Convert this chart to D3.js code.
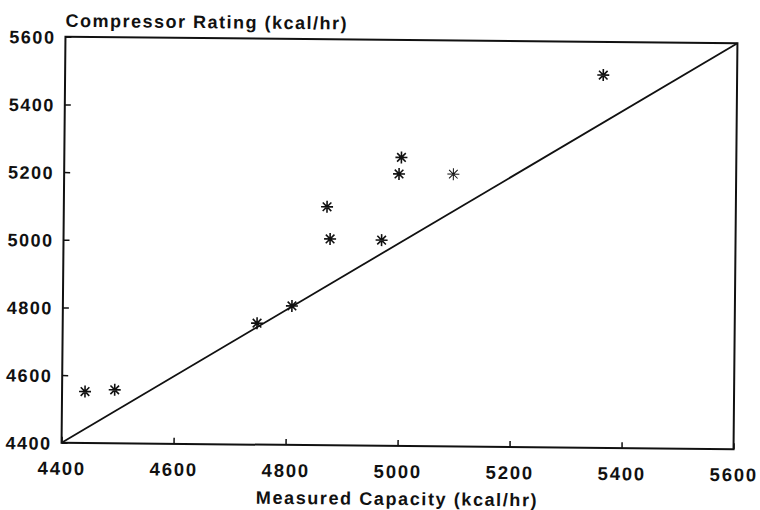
<!DOCTYPE html>
<html>
<head>
<meta charset="utf-8">
<script src="https://cdn.jsdelivr.net/npm/d3@7"></script>
<style>
  body { margin: 0; background: #fff; }
  svg text { font-family: "Liberation Sans", Arial, sans-serif; font-weight: bold; fill: #111; }
</style>
</head>
<body>
<div id="chart"></div>
<script>
// values
let measuredCapacity = [4441, 4494, 4747, 4809, 4870, 4876, 4968, 4998, 5002, 5095, 5361];
let compressorRating = [4552, 4558, 4759, 4811, 5105, 5010, 5008, 5204, 5253, 5205, 5502];
let tickValues = [4400, 4600, 4800, 5000, 5200, 5400, 5600];
let equalLine = [4400, 5600];

let width = 760;
let height = 510;
let plotLeft = 63.5, plotRight = 735.5, plotTop = 40, plotBottom = 446;

let svg = d3.select("#chart")
  .append("svg")
  .attr("width", width)
  .attr("height", height);

// the scan is a little crooked, so tilt the whole plot
let g = svg.append("g")
  .attr("transform", "rotate(0.55," + (plotLeft + plotRight) / 2 + "," + (plotTop + plotBottom) / 2 + ")");

let x = d3.scaleLinear().domain([4400, 5600]).range([plotLeft, plotRight]);
let y = d3.scaleLinear().domain([4400, 5600]).range([plotBottom, plotTop]);

// frame
g.append("rect")
  .attr("x", plotLeft)
  .attr("y", plotTop)
  .attr("width", plotRight - plotLeft)
  .attr("height", plotBottom - plotTop)
  .attr("fill", "none")
  .attr("stroke", "#111")
  .attr("stroke-width", 2);

// axes, ticks point inwards
let xAxis = g.append("g")
  .attr("transform", "translate(0," + plotBottom + ")")
  .call(d3.axisBottom(x).tickValues(tickValues).tickSizeInner(-6).tickSizeOuter(0).tickFormat(d3.format("d")));
xAxis.select(".domain").remove();
xAxis.selectAll("line").attr("stroke", "#111").attr("stroke-width", 1.5);
xAxis.selectAll("text")
  .attr("y", 32)
  .attr("dy", null)
  .attr("font-size", 18.5)
  .style("letter-spacing", "1.8px")
  .attr("fill", "#111");

let yAxis = g.append("g")
  .attr("transform", "translate(" + plotLeft + ",0)")
  .call(d3.axisLeft(y).tickValues(tickValues).tickSizeInner(-6).tickSizeOuter(0).tickFormat(d3.format("d")));
yAxis.select(".domain").remove();
yAxis.selectAll("line").attr("stroke", "#111").attr("stroke-width", 1.5);
yAxis.selectAll("text")
  .attr("x", -10)
  .attr("dy", "0.36em")
  .attr("font-size", 18)
  .style("letter-spacing", "1.5px")
  .attr("fill", "#111");

// 1:1 line
g.append("line")
  .attr("x1", x(equalLine[0]))
  .attr("y1", y(equalLine[0]))
  .attr("x2", x(equalLine[1]))
  .attr("y2", y(equalLine[1]))
  .attr("stroke", "#111")
  .attr("stroke-width", 1.8);

// asterisk markers
let star = "M-6,0H6M0,-6V6M-4.3,-4.3L4.3,4.3M-4.3,4.3L4.3,-4.3";
g.selectAll("path.pt")
  .data(measuredCapacity.map((d, i) => [d, compressorRating[i]]))
  .enter()
  .append("path")
  .attr("class", "pt")
  .attr("d", star)
  .attr("transform", d => "translate(" + x(d[0]) + "," + y(d[1]) + ")")
  .attr("fill", "none")
  .attr("stroke", "#111")
  .attr("stroke-width", (d, i) => (i === 9 ? 1 : 1.6));

// axis titles
g.append("text")
  .attr("x", plotLeft)
  .attr("y", 30)
  .attr("font-size", 18)
  .style("letter-spacing", "1.5px")
  .text("Compressor Rating (kcal/hr)");

g.append("text")
  .attr("x", (plotLeft + plotRight) / 2)
  .attr("y", 505)
  .attr("text-anchor", "middle")
  .attr("font-size", 18)
  .style("letter-spacing", "1.6px")
  .text("Measured Capacity (kcal/hr)");
</script>
</body>
</html>
